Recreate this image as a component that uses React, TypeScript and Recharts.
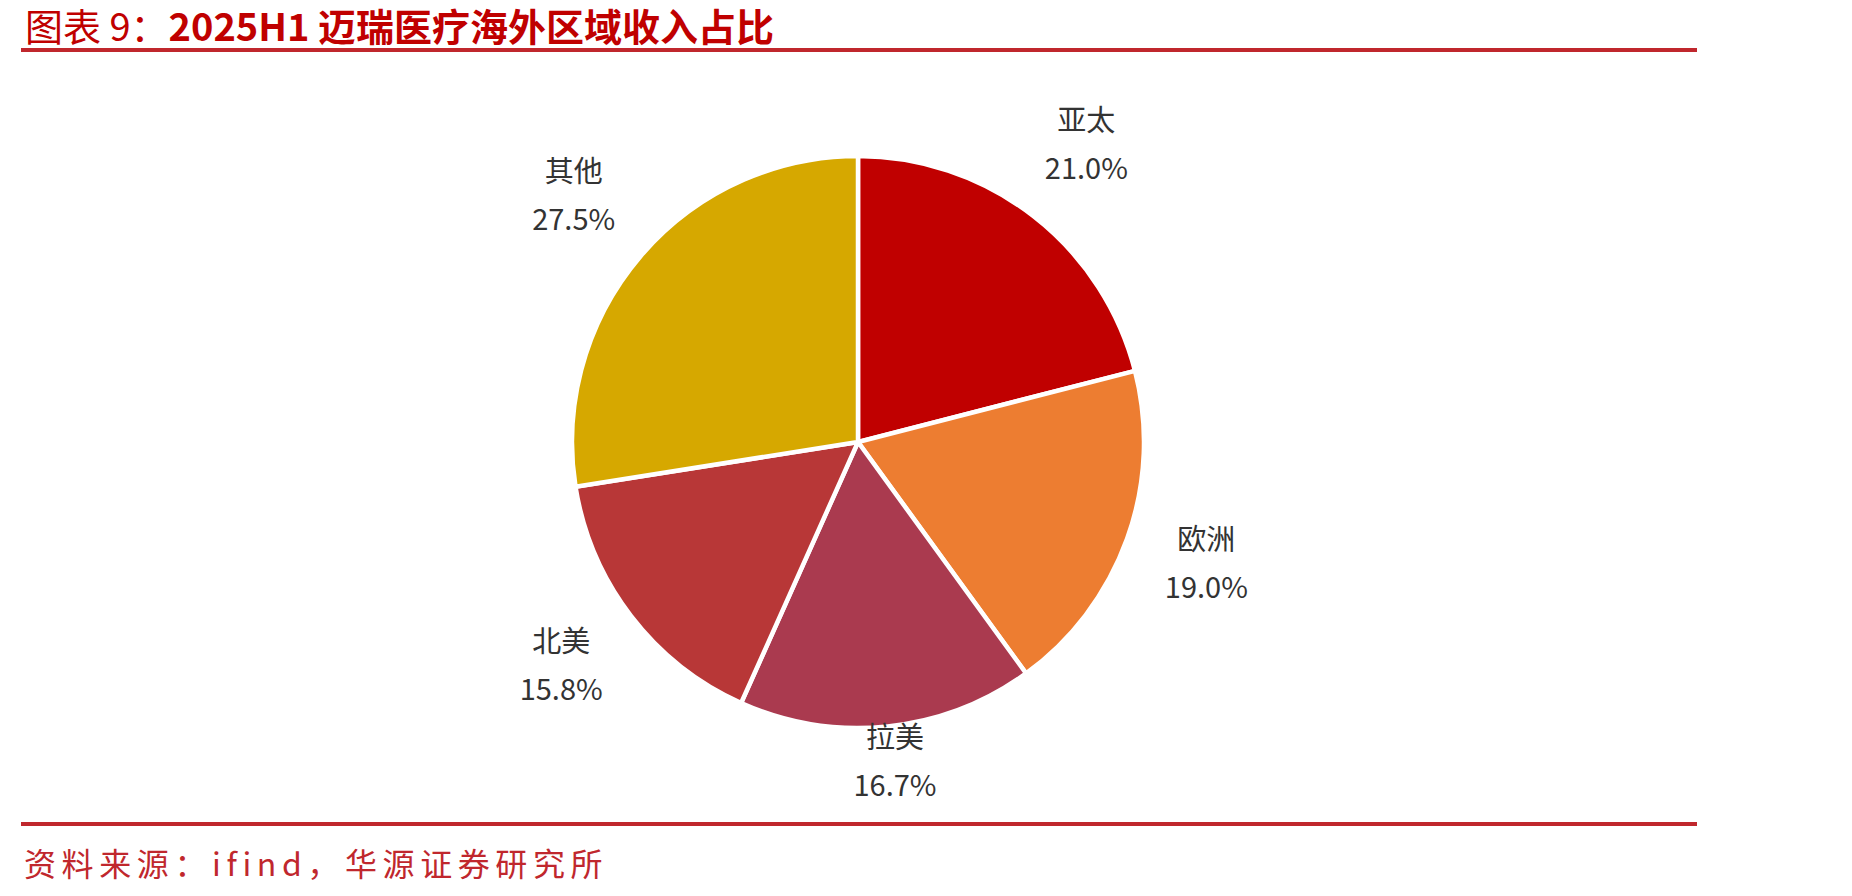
import { Cell, Pie, PieChart } from "recharts";

const regions = ["亚太", "欧洲", "拉美", "北美", "其他"];
const shares = [21.0, 19.0, 16.7, 15.8, 27.5]; // % of overseas revenue, 2025H1
const sliceColors = ["#C00000", "#ED7D31", "#AA3A4F", "#B83737", "#D6A800"];

const data = regions.map((name, i) => ({ name, value: shares[i] }));

const CHART_W = 1852;
const CHART_H = 740;
const CHART_TOP = 60;
const RADIUS = 286;
const FONT = '"Noto Sans CJK SC", "Noto Sans", sans-serif';

const RAD = Math.PI / 180;

// Excel-like "outside end": label box sits just off the rim, kept inside the chart area
function renderLabel(props: any) {
  const { cx, cy, midAngle, outerRadius, name, value } = props;
  const dx = Math.cos(midAngle * RAD);
  const dy = -Math.sin(midAngle * RAD);
  const hw = 45;
  const hh = 38;
  const d = outerRadius - 2 + 31 + Math.abs(dx) * hw + Math.abs(dy) * hh;
  const x = cx + d * dx;
  let y = cy + d * dy - 6;
  y = Math.min(y, CHART_H - 3 - hh);
  y = Math.max(y, 3 + hh);
  return (
    <g>
      <text
        x={x}
        y={y - 24}
        textAnchor="middle"
        dominantBaseline="central"
        fill="#333"
        fontSize={29}
        fontFamily={FONT}
      >
        {name}
      </text>
      <text
        x={x}
        y={y + 24}
        textAnchor="middle"
        dominantBaseline="central"
        fill="#333"
        fontSize={29}
        fontFamily={FONT}
      >
        {`${Number(value).toFixed(1)}%`}
      </text>
    </g>
  );
}

export default function App() {
  return (
    <div
      style={{
        position: "absolute",
        left: 0,
        top: 0,
        width: 1852,
        height: 896,
        background: "#fff",
        fontFamily: FONT,
      }}
    >
      <div
        style={{
          position: "absolute",
          left: 25,
          top: 4,
          fontSize: 38,
          lineHeight: "42px",
          color: "#C00000",
          whiteSpace: "nowrap",
        }}
      >
        <span style={{ fontWeight: 400 }}>图表 9：</span>
        <span style={{ fontWeight: 700 }}>2025H1 迈瑞医疗海外区域收入占比</span>
      </div>
      <div
        style={{
          position: "absolute",
          left: 21,
          top: 48,
          width: 1676,
          height: 4,
          background: "#C0272D",
        }}
      />

      <div style={{ position: "absolute", left: 0, top: CHART_TOP }}>
        <PieChart width={CHART_W} height={CHART_H}>
          <Pie
            data={data}
            dataKey="value"
            nameKey="name"
            cx={853}
            cy={437 - CHART_TOP}
            outerRadius={RADIUS}
            startAngle={90}
            endAngle={-270}
            stroke="#fff"
            strokeWidth={4.5}
            label={renderLabel}
            labelLine={false}
            isAnimationActive={false}
          >
            {data.map((d, i) => (
              <Cell key={d.name} fill={sliceColors[i]} />
            ))}
          </Pie>
        </PieChart>
      </div>

      <div
        style={{
          position: "absolute",
          left: 21,
          top: 822,
          width: 1676,
          height: 4,
          background: "#C0272D",
        }}
      />
      <div
        style={{
          position: "absolute",
          left: 24,
          top: 842,
          fontSize: 32,
          lineHeight: "40px",
          letterSpacing: 5.6,
          color: "#C0272D",
          whiteSpace: "nowrap",
        }}
      >
        资料来源：ifind，华源证券研究所
      </div>
    </div>
  );
}
